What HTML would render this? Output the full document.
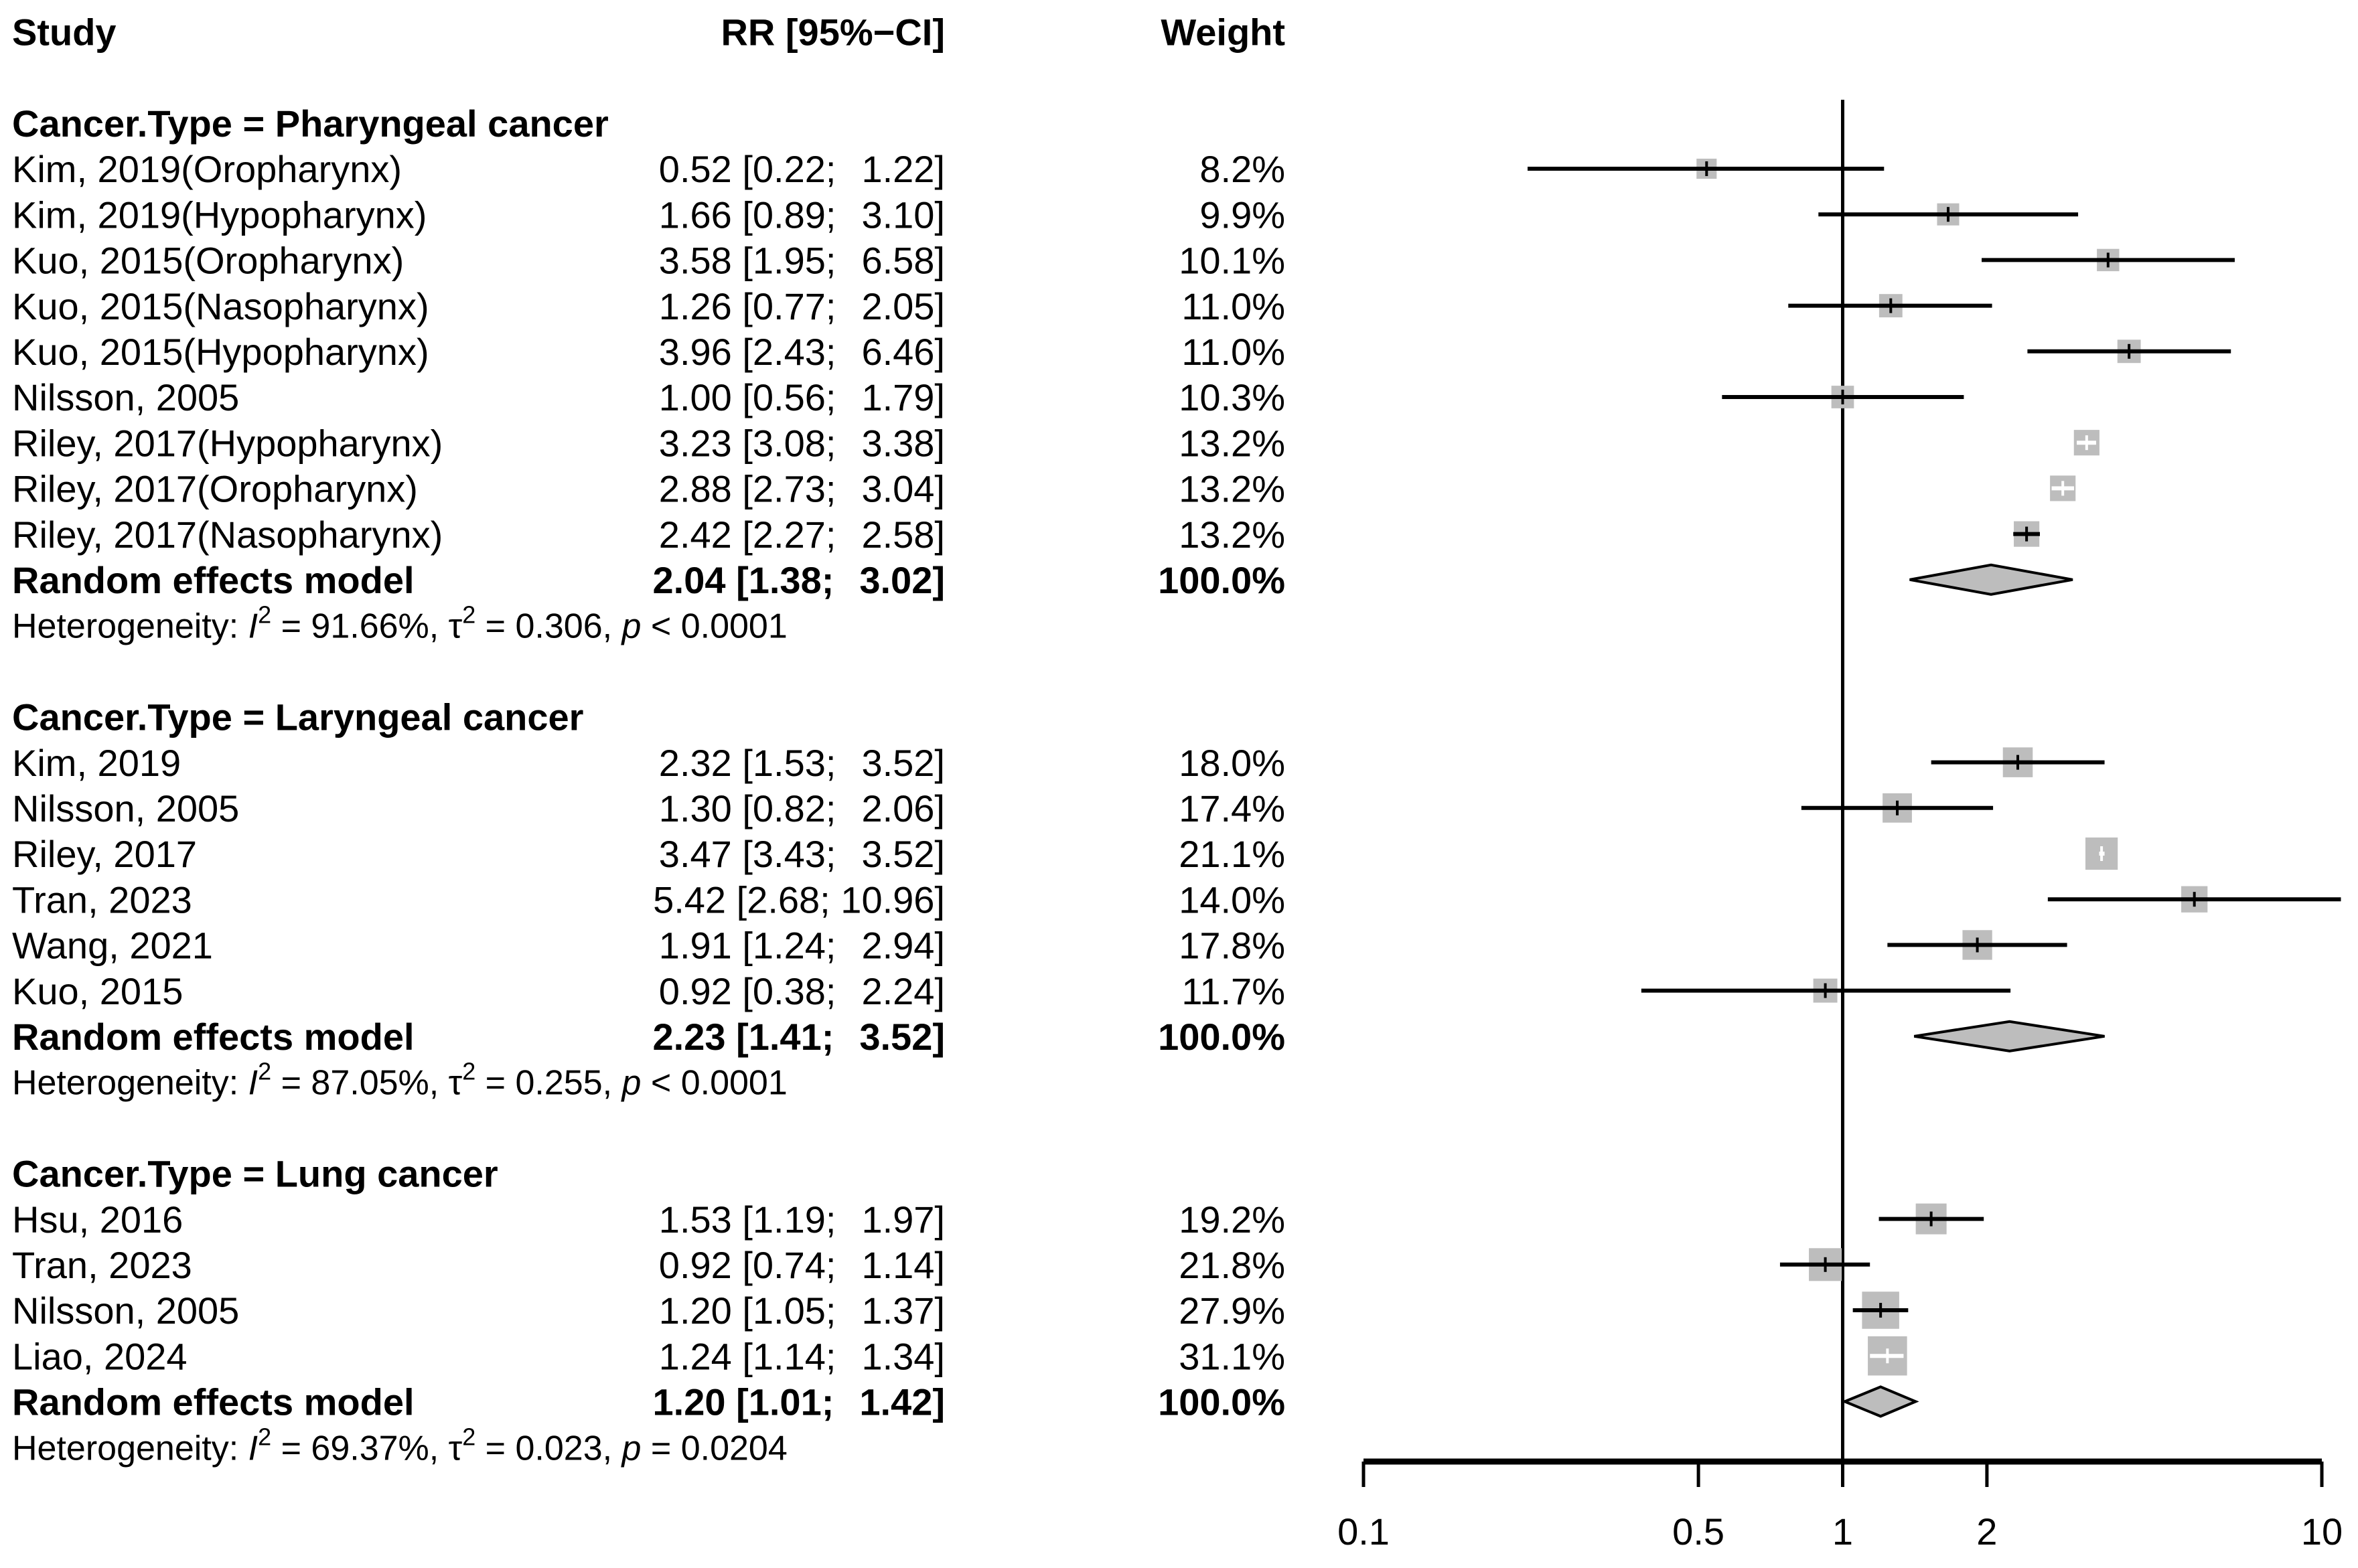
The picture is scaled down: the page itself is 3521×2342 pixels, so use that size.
<!DOCTYPE html>
<html><head><meta charset="utf-8"><style>
html,body{margin:0;padding:0;background:#fff;}
svg{display:block;font-family:"Liberation Sans",Arial,sans-serif;}
</style></head><body>
<svg id="chart" width="3521" height="2342" viewBox="0 0 3521 2342" xmlns="http://www.w3.org/2000/svg">
<g id="text-layer"></g>
<g id="plot-layer"></g>
</svg>
<script>
// ---- data ----
const studyLabels = ["Kim, 2019(Oropharynx)","Kim, 2019(Hypopharynx)","Kuo, 2015(Oropharynx)","Kuo, 2015(Nasopharynx)","Kuo, 2015(Hypopharynx)","Nilsson, 2005","Riley, 2017(Hypopharynx)","Riley, 2017(Oropharynx)","Riley, 2017(Nasopharynx)",
 "Kim, 2019","Nilsson, 2005","Riley, 2017","Tran, 2023","Wang, 2021","Kuo, 2015",
 "Hsu, 2016","Tran, 2023","Nilsson, 2005","Liao, 2024"];
const studyRR = [0.52,1.66,3.58,1.26,3.96,1.00,3.23,2.88,2.42, 2.32,1.30,3.47,5.42,1.91,0.92, 1.53,0.92,1.20,1.24];
const studyLo = [0.22,0.89,1.95,0.77,2.43,0.56,3.08,2.73,2.27, 1.53,0.82,3.43,2.68,1.24,0.38, 1.19,0.74,1.05,1.14];
const studyHi = [1.22,3.10,6.58,2.05,6.46,1.79,3.38,3.04,2.58, 3.52,2.06,3.52,10.96,2.94,2.24, 1.97,1.14,1.37,1.34];
const studyWeight = [8.2,9.9,10.1,11.0,11.0,10.3,13.2,13.2,13.2, 18.0,17.4,21.1,14.0,17.8,11.7, 19.2,21.8,27.9,31.1];
const studyRow = [3,4,5,6,7,8,9,10,11, 16,17,18,19,20,21, 26,27,28,29];
const groupNames = ["Cancer.Type = Pharyngeal cancer","Cancer.Type = Laryngeal cancer","Cancer.Type = Lung cancer"];
const groupRR = [2.04,2.23,1.20];
const groupLo = [1.38,1.41,1.01];
const groupHi = [3.02,3.52,1.42];
const groupHeaderRow = [2,15,25];
const groupModelRow = [12,22,30];
const hetI2 = ["91.66%","87.05%","69.37%"];
const hetTau2 = ["0.306","0.255","0.023"];
const hetP = ["< 0.0001","< 0.0001","= 0.0204"];
const tickValues = [0.1,0.5,1,2,10];
const tickLabels = ["0.1","0.5","1","2","10"];

// ---- geometry ----
const NS="http://www.w3.org/2000/svg";
const xLogMin=-1, xLogMax=1, xLeft=2036, xRight=3467;
function xs(v){return xLeft+(Math.log10(v)-xLogMin)/(xLogMax-xLogMin)*(xRight-xLeft);}
function rowY(i){return 47.4+68.2*i;}
const FS=56, colStudy=18, colRR=1411, colW=1919, axisY=2183;
const T=document.getElementById('text-layer'), P=document.getElementById('plot-layer');
function mk(tag,attrs,parent){const e=document.createElementNS(NS,tag);for(const k in attrs)e.setAttribute(k,attrs[k]);parent.appendChild(e);return e;}
function txt(s,x,y,anchor,bold,size,parent){const e=mk('text',{x:x,y:y+size*0.36,'text-anchor':anchor,'font-size':size,'font-weight':bold?'bold':'normal',fill:'#000'},parent);e.textContent=s;return e;}
function fmt(v){return v.toFixed(2);}
function ci(i){return fmt(studyRR[i])+' ['+fmt(studyLo[i])+'; '+(studyHi[i]>=10?'':'\u2009\u2009')+fmt(studyHi[i])+']';}

let e;
e=txt("Study",colStudy,rowY(0),'start',true,FS,T);


e=txt("RR [95%\u2212CI]",colRR,rowY(0),'end',true,FS,T);


e=txt("Weight",colW,rowY(0),'end',true,FS,T);



e=mk('line',{x1:xs(1),x2:xs(1),y1:149,y2:axisY,stroke:'#000','stroke-width':5},P);



for(let i=0;i<studyRR.length;i++){
  const y=rowY(studyRow[i]);
  e=txt(studyLabels[i],colStudy,y,'start',false,FS,T);
  
  
  e=txt(ci(i),colRR,y,'end',false,FS,T);
  
  
  e=txt(studyWeight[i].toFixed(1)+'%',colW,y,'end',false,FS,T);
  
  
  const side=10.5*Math.sqrt(studyWeight[i]);
  const cx=xs(studyRR[i]);
  e=mk('rect',{x:cx-side/2,y:y-side/2,width:side,height:side,fill:'#bdbdbd'},P);
  
  
  const x1=xs(studyLo[i]),x2=xs(studyHi[i]);
  const col=(x2-x1)<side?'#fff':'#000';
  e=mk('line',{x1:x1,x2:x2,y1:y,y2:y,stroke:col,'stroke-width':6},P);
  
  
  e=mk('line',{x1:cx,x2:cx,y1:y-11,y2:y+11,stroke:col,'stroke-width':4},P);
  
  
}

for(let g=0;g<groupRR.length;g++){
  e=txt(groupNames[g],colStudy,rowY(groupHeaderRow[g]),'start',true,FS,T);
  
  
  const y=rowY(groupModelRow[g]);
  e=txt("Random effects model",colStudy,y,'start',true,FS,T);
  
  
  e=txt(fmt(groupRR[g])+' ['+fmt(groupLo[g])+'; \u2009\u2009'+fmt(groupHi[g])+']',colRR,y,'end',true,FS,T);
  
  
  e=txt("100.0%",colW,y,'end',true,FS,T);
  
  
  const a=xs(groupLo[g]),c=xs(groupRR[g]),b=xs(groupHi[g]);
  e=mk('polygon',{points:`${a},${y} ${c},${y-22} ${b},${y} ${c},${y+22}`,fill:'#bdbdbd',stroke:'#000','stroke-width':4},P);
  
  
  const hy=rowY(groupModelRow[g]+1)+52*0.36;
  const h=mk('text',{x:colStudy,y:hy,'font-size':52,fill:'#000'},T);
  
  
  h.innerHTML=`Heterogeneity: <tspan font-style="italic">I</tspan><tspan dy="-22" font-size="36">2</tspan><tspan dy="22"> = ${hetI2[g]}, τ</tspan><tspan dy="-22" font-size="36">2</tspan><tspan dy="22"> = ${hetTau2[g]}, </tspan><tspan font-style="italic">p</tspan> ${hetP[g]}`;
}

e=mk('line',{x1:xLeft,x2:xRight,y1:axisY,y2:axisY,stroke:'#000','stroke-width':9},P);


for(let t=0;t<tickValues.length;t++){
  const x=xs(tickValues[t]);
  e=mk('line',{x1:x,x2:x,y1:axisY,y2:2221,stroke:'#000','stroke-width':5},P);
  
  
  e=txt(tickLabels[t],x,2287,'middle',false,FS,P);
  
  
}
</script>
</body></html>
